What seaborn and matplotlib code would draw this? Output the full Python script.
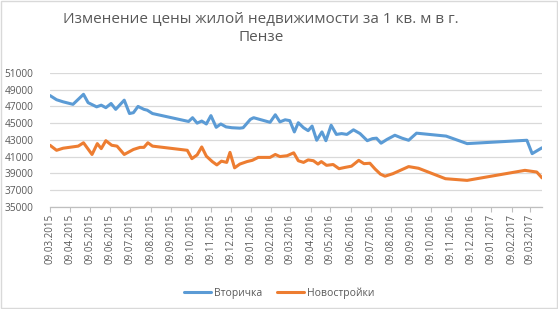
import matplotlib
matplotlib.use("Agg")
import matplotlib.pyplot as plt
import matplotlib.dates as mdates
from matplotlib.patches import Rectangle
import pandas as pd
import seaborn as sns

# values (price per sq. m, rub)
title = "Изменение цены жилой недвижимости за 1 кв. м в г.\nПензе"

dates_vtor = [
    "2015-03-09", "2015-03-19", "2015-03-29", "2015-04-13", "2015-04-29", "2015-05-06",
    "2015-05-19", "2015-05-26", "2015-06-02", "2015-06-10", "2015-06-17", "2015-06-30",
    "2015-07-08", "2015-07-14", "2015-07-21", "2015-07-30", "2015-08-04", "2015-08-12",
    "2015-10-06", "2015-10-12", "2015-10-19", "2015-10-26", "2015-11-02", "2015-11-09",
    "2015-11-17", "2015-11-24", "2015-12-02", "2015-12-11", "2015-12-23", "2015-12-28",
    "2016-01-08", "2016-01-13", "2016-02-07", "2016-02-15", "2016-02-22", "2016-03-01",
    "2016-03-08", "2016-03-15", "2016-03-21", "2016-03-29", "2016-04-05", "2016-04-11",
    "2016-04-18", "2016-04-26", "2016-05-02", "2016-05-10", "2016-05-18", "2016-05-26",
    "2016-06-03", "2016-06-13", "2016-06-23", "2016-07-04", "2016-07-12", "2016-07-18",
    "2016-07-25", "2016-08-03", "2016-08-15", "2016-08-26", "2016-09-05", "2016-09-17",
    "2016-11-01", "2016-12-03", "2017-03-04", "2017-03-12", "2017-03-27",
]
vtor = [
    48300, 47800, 47550, 47250, 48450, 47450,
    46950, 47150, 46850, 47350, 46650, 47750,
    46150, 46250, 47000, 46650, 46550, 46150,
    45200, 45650, 45000, 45250, 44900, 45900,
    44500, 44900, 44550, 44450, 44400, 44450,
    45450, 45650, 45100, 46000, 45150, 45400,
    45300, 43950, 45050, 44450, 44100, 44650,
    42950, 43950, 42900, 44750, 43650, 43750,
    43650, 44200, 43750, 42900, 43150, 43200,
    42600, 43050, 43550, 43200, 42950, 43800,
    43450, 42550, 42950, 41350, 42050,
]

dates_novo = [
    "2015-03-09", "2015-03-19", "2015-03-29", "2015-04-21", "2015-04-29", "2015-05-12",
    "2015-05-20", "2015-05-26", "2015-06-02", "2015-06-11", "2015-06-19", "2015-06-30",
    "2015-07-14", "2015-07-24", "2015-07-30", "2015-08-05", "2015-08-12", "2015-10-04",
    "2015-10-11", "2015-10-19", "2015-10-26", "2015-11-02", "2015-11-11", "2015-11-18",
    "2015-11-25", "2015-12-03", "2015-12-08", "2015-12-15", "2015-12-23", "2016-01-03",
    "2016-01-11", "2016-01-20", "2016-02-07", "2016-02-15", "2016-02-22", "2016-03-04",
    "2016-03-14", "2016-03-21", "2016-03-29", "2016-04-05", "2016-04-13", "2016-04-20",
    "2016-04-25", "2016-05-03", "2016-05-13", "2016-05-22", "2016-05-31", "2016-06-10",
    "2016-06-21", "2016-06-29", "2016-07-08", "2016-07-16", "2016-07-24", "2016-07-31",
    "2016-08-12", "2016-09-05", "2016-09-20", "2016-10-31", "2016-12-03", "2017-03-01",
    "2017-03-19", "2017-03-27",
]
novo = [
    42350, 41750, 42000, 42250, 42650, 41250,
    42550, 41950, 42900, 42350, 42250, 41250,
    41850, 42100, 42100, 42650, 42250, 41750,
    40750, 41200, 42150, 41050, 40400, 40000,
    40450, 40300, 41500, 39650, 40100, 40400,
    40550, 40900, 40900, 41250, 41000, 41100,
    41450, 40500, 40300, 40600, 40500, 40100,
    40400, 39950, 40050, 39550, 39700, 39850,
    40550, 40150, 40200, 39500, 38900, 38650,
    38950, 39800, 39600, 38350, 38150, 39350,
    39150, 38450,
]

series_names = ["Вторичка", "Новостройки"]
colors = ["#5B9BD5", "#ED7D31"]

df = pd.concat([
    pd.DataFrame({"Дата": pd.to_datetime(dates_vtor), "Цена": vtor, "Ряд": series_names[0]}),
    pd.DataFrame({"Дата": pd.to_datetime(dates_novo), "Цена": novo, "Ряд": series_names[1]}),
], ignore_index=True)

sns.set_theme(style="white")
plt.rcParams["font.family"] = ["Open Sans", "DejaVu Sans"]
txt = "#595959"
grid = "#D9D9D9"

fig = plt.figure(figsize=(5.58, 3.09), dpi=100)
ax = fig.add_axes([50 / 558, 1 - 206.7 / 309, 492 / 558, 133.7 / 309])

sns.lineplot(data=df, x="Дата", y="Цена", hue="Ряд", palette=dict(zip(series_names, colors)),
             estimator=None, linewidth=2.2, ax=ax, legend=False)

ax.set_ylim(35000, 51000)
ax.set_yticks(range(35000, 51001, 2000))
ax.set_xlim(pd.Timestamp(dates_vtor[0]), pd.Timestamp(dates_vtor[-1]))
ax.xaxis.set_major_locator(mdates.MonthLocator(bymonthday=9))
ax.xaxis.set_major_formatter(mdates.DateFormatter("%d.%m.%Y"))
ax.grid(axis="y", color=grid, linewidth=0.9)
ax.set_axisbelow(True)
ax.set_xlabel("")
ax.set_ylabel("")
for s in ["left", "right", "top"]:
    ax.spines[s].set_visible(False)
ax.spines["bottom"].set_color("#BFBFBF")
ax.spines["bottom"].set_linewidth(0.9)
ax.tick_params(axis="x", bottom=True, length=3.5, width=0.8, color="#BFBFBF",
               labelsize=7, labelcolor=txt, rotation=90, pad=1.5)
ax.tick_params(axis="y", left=False, labelsize=7.3, labelcolor=txt, pad=6)

fig.text(0.468, 0.907, title, ha="center", va="center", fontsize=11, color=txt, linespacing=1.3)

handles = [plt.Line2D([], [], color=c, linewidth=2.2) for c in colors]
fig.legend(handles, series_names, loc="center", bbox_to_anchor=(0.5, 0.052), ncol=2, frameon=False,
           fontsize=7.5, labelcolor=txt, handlelength=2.6, handletextpad=0.3, columnspacing=1.4)

fig.patches.append(Rectangle((0.001, 0.002), 0.997, 0.995, transform=fig.transFigure,
                             fill=False, edgecolor=grid, linewidth=1))

fig.savefig("out.png", dpi=100)
